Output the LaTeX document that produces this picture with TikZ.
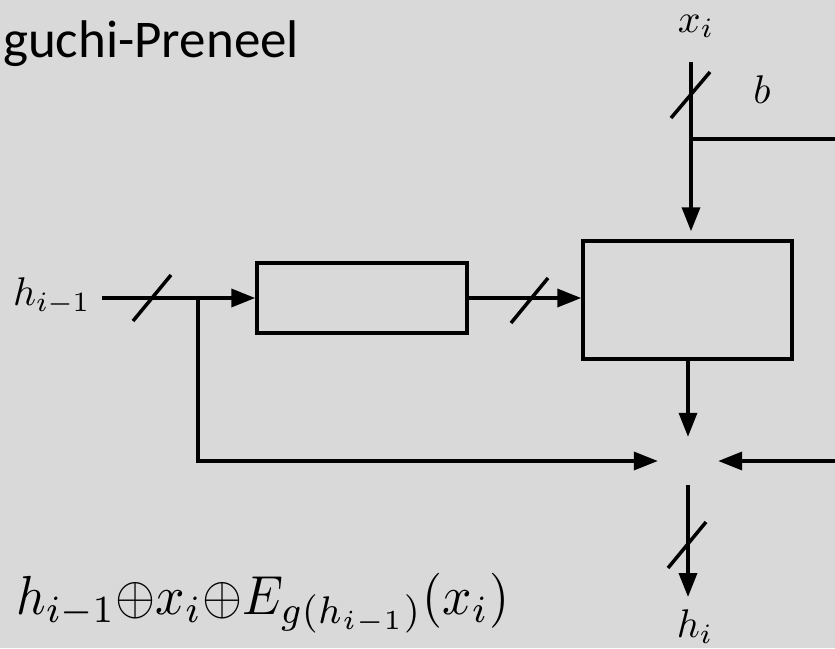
\documentclass[tikz,border=0pt]{standalone}
\usepackage{graphicx}
\usepackage{fontspec}
\newfontfamily\titlefont{Carlito}
\usetikzlibrary{arrows.meta,calc}
\definecolor{bggray}{RGB}{217,217,217}
\tikzset{
  wire/.style={line width=3.5pt},
  arr/.style={wire,-{Triangle[length=24pt,width=18pt]}},
  slash/.style={line width=3.5pt},
  box/.style={draw,line width=3.5pt,inner sep=0pt},
  lbl/.style={inner sep=0pt},
}
\newcommand{\mymath}[2]{\scalebox{#1}{$#2$}}
\begin{document}
\begin{tikzpicture}[x=1pt,y=-1pt]
\useasboundingbox (0,0) rectangle (835,648);
\fill[bggray] (0,0) rectangle (835,648);
\clip (0,0) rectangle (835,648);
% title
\node[anchor=base west,inner sep=0pt,font=\titlefont\fontsize{53}{60}\selectfont] (title) at (3,57) {guchi-Preneel};
% boxes
\node[box,minimum width=210pt,minimum height=70pt] (g) at (362,298) {};
\node[box,minimum width=209pt,minimum height=118pt] (E) at (687.5,300) {};
\node[minimum width=60pt,minimum height=48pt,inner sep=0pt] (X) at (688,461) {};
% labels
\node[lbl,anchor=base west] (hin) at (13,305) {\mymath{4}{h_{i-1}}};
\node[lbl,anchor=base] (xi) at (696,32) {\mymath{4}{x_i}};
\node[lbl,anchor=base] (b) at (762,103) {\mymath{4}{b}};
\node[lbl,anchor=base] (hi) at (695,637) {\mymath{4}{h_i}};
\node[lbl,anchor=base west] (formula) at (16,614)
  {\scalebox{5.15}[5.5]{$h_{i-1}{\oplus}x_i{\oplus}E_{g(h_{i-1})}(x_i)$}};
% coordinates
\coordinate (hstart) at (102,298);
\coordinate (br1) at (198,298);
\coordinate (xtop) at (691,62);
\coordinate (br2) at (691,139);
\coordinate (rx) at (870,139);
\coordinate (hout) at (688,597);
% connectors
\draw[arr] (hstart) -- (g.west);
\draw[arr] (br1) |- (X.west);
\draw[arr] (g.east) -- (g.east -| E.west);
\draw[arr] (xtop) -- ([yshift=8pt]E.north -| xtop);
\draw[wire] (br2) -- (rx);
\draw[arr] (rx) |- (X.east);
\draw[arr] (E.south -| X.north) -- (X.north);
\draw[arr] (X.south) -- (hout);
% bus slashes
\draw[slash] (152,298) +(-19,23) -- +(19,-23);
\draw[slash] (529.5,300.5) +(-18.5,22.5) -- +(18.5,-22.5);
\draw[slash] (690.5,95) +(-19.5,23) -- +(19.5,-23);
\draw[slash] (687,545) +(-19,23) -- +(19,-23);
\end{tikzpicture}
\end{document}
